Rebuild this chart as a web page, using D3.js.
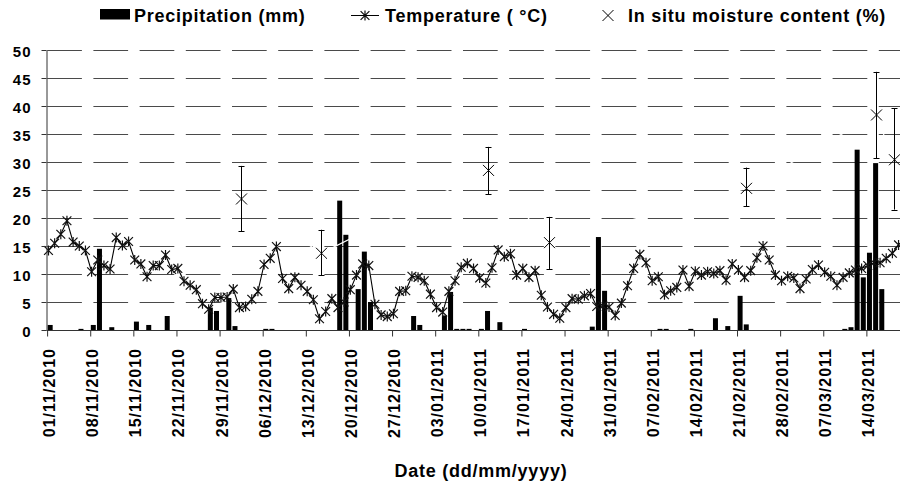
<!DOCTYPE html>
<html>
<head>
<meta charset="utf-8">
<script src="https://cdn.jsdelivr.net/npm/d3@7/dist/d3.min.js"></script>
<style>
  html, body { margin: 0; padding: 0; background: #fff; }
  svg { display: block; font-family: "Liberation Sans", Arial, sans-serif; font-weight: bold; }
</style>
</head>
<body>
<svg id="chart" width="900" height="483"></svg>
<script>
// ---------------- DATA ----------------
const startDate = "01/11/2010";   // first day of daily record (dd/mm/yyyy)

// Daily mean air temperature (°C), one value per day from 01/11/2010
const temperature = [
  14.2, 15.5, 17.1, 19.5, 15.7, 15.0, 14.2, 10.4, 12.5, 11.5,
  10.9, 16.5, 15.1, 15.8, 12.5, 11.8, 9.5, 11.5, 11.5, 13.4,
  10.8, 11.0, 8.7, 8.0, 7.2, 4.7, 3.7, 5.8, 5.8, 5.9,
  7.3, 4.0, 4.2, 5.5, 6.9, 11.7, 12.8, 14.9, 9.2, 7.4,
  9.4, 8.0, 6.9, 5.4, 2.0, 3.3, 5.6, 4.0, 5.0, 7.2,
  9.8, 11.8, 11.5, 4.6, 2.7, 2.4, 2.9, 6.9, 7.0, 9.6,
  9.4, 8.8, 6.4, 4.0, 3.2, 6.9, 8.8, 11.2, 11.9, 11.0,
  9.3, 8.4, 11.1, 14.3, 13.1, 13.6, 9.8, 11.0, 9.4, 10.6,
  6.2, 4.1, 2.8, 2.1, 4.0, 5.6, 5.5, 6.1, 6.5, 4.2,
  4.3, 4.1, 2.6, 4.8, 7.9, 11.0, 13.5, 12.0, 8.8, 9.5,
  6.3, 7.0, 7.6, 10.7, 7.8, 10.5, 9.8, 10.4, 10.1, 10.6,
  8.9, 11.8, 10.7, 9.4, 10.6, 12.9, 15.0, 12.5, 9.8, 8.8,
  9.6, 9.3, 7.4, 9.1, 10.8, 11.6, 10.3, 9.6, 8.0, 9.4,
  10.2, 10.7, 11.0, 11.5, 12.0, 12.0, 12.8, 13.7, 15.2
];

// Daily precipitation (mm), one value per day from 01/11/2010
const precipitation = [
  0.9, 0, 0, 0, 0, 0.2, 0, 0.9, 14.5, 0,
  0.5, 0, 0, 0, 1.5, 0, 0.9, 0, 0, 2.5,
  0, 0, 0, 0, 0, 0, 4.0, 3.4, 0, 5.7,
  0.7, 0, 0, 0, 0, 0.2, 0.2, 0, 0, 0,
  0, 0, 0, 0, 0, 0, 0, 23.1, 17.0, 0,
  7.3, 14.0, 5.0, 0, 0, 0, 0, 0, 0, 2.5,
  0.9, 0, 0, 0, 2.6, 6.8, 0.2, 0.2, 0.2, 0,
  0.2, 3.4, 0, 1.4, 0, 0, 0, 0.2, 0, 0,
  0, 0, 0, 0, 0, 0, 0, 0, 0.6, 16.6,
  7.0, 0, 0, 0, 0, 0, 0, 0, 0, 0.2,
  0.2, 0, 0, 0, 0.2, 0, 0, 0, 2.1, 0,
  0.7, 0, 6.1, 1.0, 0, 0, 0, 0, 0, 0,
  0, 0, 0, 0, 0, 0, 0, 0, 0, 0.2,
  0.5, 32.2, 9.4, 13.8, 29.8, 7.3, 0, 0, 0
];

// In situ moisture content (%) with error bars
const moistureDates = ["02/12/2010", "15/12/2010", "11/01/2011", "21/01/2011", "22/02/2011", "15/03/2011", "18/03/2011"];
const moistureValues = [23.4, 13.7, 28.5, 15.6, 25.3, 38.4, 30.4];
const moistureLow    = [17.6, 9.8, 24.2, 10.9, 22.1, 30.7, 21.5];
const moistureHigh   = [29.3, 17.9, 32.7, 20.2, 29.0, 46.1, 39.6];

const xTickLabels = ["01/11/2010", "08/11/2010", "15/11/2010", "22/11/2010", "29/11/2010",
  "06/12/2010", "13/12/2010", "20/12/2010", "27/12/2010", "03/01/2011", "10/01/2011",
  "17/01/2011", "24/01/2011", "31/01/2011", "07/02/2011", "14/02/2011", "21/02/2011",
  "28/02/2011", "07/03/2011", "14/03/2011"];
const yTickValues = [0, 5, 10, 15, 20, 25, 30, 35, 40, 45, 50];

const legendLabels = ["Precipitation (mm)", "Temperature ( °C)", "In situ moisture content (%)"];
const xTitle = "Date (dd/mm/yyyy)";

// ---------------- CHART ----------------
const parse = d3.timeParse("%d/%m/%Y");
const d0 = parse(startDate);
const days = d3.timeDay.range(d0, d3.timeDay.offset(d0, temperature.length));
const series = days.map((d, i) => ({ date: d, t: temperature[i], p: precipitation[i] }));

const plotL = 47.1, dayW = 6.16;
const x = d3.scaleTime()
  .domain([d0, d3.timeDay.offset(d0, days.length)])
  .range([plotL, plotL + dayW * days.length]);
const mid = d => x(d3.timeHour.offset(d, 12));
const y = d3.scaleLinear().domain([0, 50]).range([330, 50]);

const svg = d3.select("#chart");

// gridlines
svg.append("g").selectAll("line")
  .data(yTickValues.filter(v => v > 0))
  .join("line")
  .attr("x1", 47.2).attr("x2", 905)
  .attr("y1", d => Math.round(y(d)) + 0.5).attr("y2", d => Math.round(y(d)) + 0.5)
  .attr("stroke", "#4a4a4a").attr("stroke-width", 1)
  .attr("stroke-dasharray", "34.7,11.5");

// precipitation bars
const barW = 5;
svg.append("g").selectAll("rect")
  .data(series.filter(d => d.p > 0))
  .join("rect")
  .attr("x", d => mid(d.date) - barW / 2)
  .attr("width", barW)
  .attr("y", d => y(d.p))
  .attr("height", d => y(0) - y(d.p))
  .attr("fill", "#000");

// moisture data
const moist = moistureDates.map((s, i) => ({
  date: parse(s), v: moistureValues[i], lo: moistureLow[i], hi: moistureHigh[i]
}));

// invisible (white) connecting line of the moisture series
svg.append("path")
  .datum(moist)
  .attr("fill", "none").attr("stroke", "#fff").attr("stroke-width", 1.2)
  .attr("d", d3.line().x(d => mid(d.date)).y(d => y(d.v)));

// temperature line
const tShift = -1.7;
svg.append("path")
  .datum(series)
  .attr("fill", "none").attr("stroke", "#000").attr("stroke-width", 1.1)
  .attr("d", d3.line().x(d => mid(d.date) + tShift).y(d => y(d.t)));

const starPath = "M-4.4,-4.4L4.4,4.4M-4.4,4.4L4.4,-4.4M0,-5L0,5";
svg.append("g").selectAll("path")
  .data(series)
  .join("path")
  .attr("transform", d => `translate(${mid(d.date) + tShift},${y(d.t)})`)
  .attr("d", starPath)
  .attr("fill", "none").attr("stroke", "#111").attr("stroke-width", 1.2);

// moisture error bars + markers
const mg = svg.append("g").selectAll("g").data(moist).join("g")
  .attr("transform", d => `translate(${Math.round(mid(d.date)) + 0.5},0)`);
mg.append("line").attr("x1", 0).attr("x2", 0)
  .attr("y1", d => y(d.lo)).attr("y2", d => y(d.hi))
  .attr("stroke", "#000").attr("stroke-width", 1);
mg.append("line").attr("x1", -3).attr("x2", 3)
  .attr("y1", d => Math.round(y(d.hi)) + 0.5).attr("y2", d => Math.round(y(d.hi)) + 0.5)
  .attr("stroke", "#000");
mg.append("line").attr("x1", -3).attr("x2", 3)
  .attr("y1", d => Math.round(y(d.lo)) + 0.5).attr("y2", d => Math.round(y(d.lo)) + 0.5)
  .attr("stroke", "#000");
const xMark = "M-5.5,-5.5L5.5,5.5M-5.5,5.5L5.5,-5.5";
mg.append("path")
  .attr("transform", d => `translate(0,${y(d.v)})`)
  .attr("d", xMark).attr("fill", "none").attr("stroke", "#000").attr("stroke-width", 1);

// y axis
const yAxis = svg.append("g")
  .attr("transform", "translate(46.5,0)")
  .call(d3.axisLeft(y).tickValues(yTickValues).tickSize(5).tickSizeOuter(0).tickPadding(10));
yAxis.select(".domain").attr("stroke", "#333");
yAxis.selectAll(".tick line").attr("stroke", "#333");
yAxis.selectAll(".tick text")
  .attr("font-size", 15).attr("font-family", null).attr("font-weight", "bold")
  .attr("letter-spacing", "1px").attr("dy", "0.42em").attr("fill", "#000");

// x axis
const xAxis = svg.append("g")
  .attr("transform", "translate(0,330.5)")
  .call(d3.axisBottom(x)
    .tickValues(xTickLabels.map(parse))
    .tickFormat((d, i) => xTickLabels[i])
    .tickSize(6).tickSizeOuter(0));
xAxis.select(".domain").attr("stroke", "#333").attr("d", "M46.5,0H905");
xAxis.selectAll(".tick line").attr("stroke", "#333");
xAxis.selectAll(".tick text")
  .attr("font-size", 16).attr("font-family", null).attr("font-weight", "bold")
  .attr("letter-spacing", "1px").attr("fill", "#000")
  .attr("transform", "rotate(-90)")
  .attr("text-anchor", "end")
  .attr("x", -17.5).attr("y", 0).attr("dy", "0.47em");

// x title
svg.append("text")
  .attr("x", 481).attr("y", 476.5)
  .attr("text-anchor", "middle")
  .attr("font-size", 18).attr("letter-spacing", "0.75px")
  .text(xTitle);

// legend
const lg = svg.append("g").attr("font-size", 18).attr("letter-spacing", "0.75px");
lg.append("rect").attr("x", 100).attr("y", 9).attr("width", 30).attr("height", 10.5).attr("fill", "#000");
lg.append("text").attr("x", 134).attr("y", 21.5).text(legendLabels[0]);
lg.append("line").attr("x1", 351).attr("x2", 379).attr("y1", 15.5).attr("y2", 15.5).attr("stroke", "#000");
lg.append("path").attr("transform", "translate(365,15.5)").attr("d", starPath)
  .attr("fill", "none").attr("stroke", "#111").attr("stroke-width", 1.2);
lg.append("text").attr("x", 385).attr("y", 21.5).text(legendLabels[1]);
lg.append("path").attr("transform", "translate(608,15.5)").attr("d", xMark)
  .attr("fill", "none").attr("stroke", "#000");
lg.append("text").attr("x", 628).attr("y", 21.5).text(legendLabels[2]);
</script>
</body>
</html>
